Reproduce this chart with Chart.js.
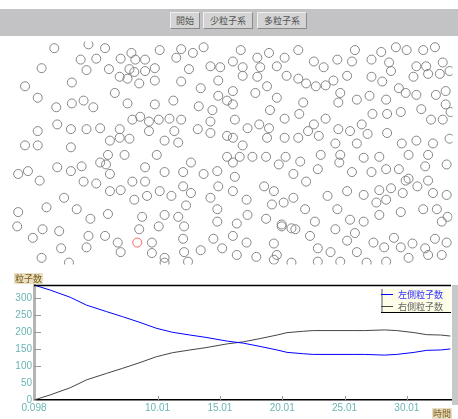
<!DOCTYPE html>
<html>
<head>
<meta charset="utf-8">
<script src="https://cdn.jsdelivr.net/npm/chart.js@4"></script>
<style>
body { margin: 0; width: 458px; height: 419px; position: relative; background: #fff; overflow: hidden; font-family: "Noto Sans CJK JP", sans-serif; }
#bar { position: absolute; left: 0; top: 9px; width: 458px; height: 27px; background: #c3c3c5; }
.btn { position: absolute; top: 3px; height: 15px; background: #d4d4d4; border: 1px solid; border-color: #efefef #8a8a8a #8a8a8a #efefef; font-size: 9px; line-height: 15px; text-align: center; color: #555; }
#field { position: absolute; left: 0; top: 36px; }
#graph { position: absolute; left: 0; top: 270px; }
.lbl { position: absolute; font-size: 9px; line-height: 11px; color: #7a5a10; background: #e8dfc4; padding: 0 1px; }
</style>
</head>
<body>
<div id="bar">
  <div class="btn" style="left:170px;width:28px">開始</div>
  <div class="btn" style="left:203px;width:48px">少粒子系</div>
  <div class="btn" style="left:257px;width:48px">多粒子系</div>
</div>
<canvas id="field" width="458" height="234"></canvas>
<canvas id="graph" width="458" height="149"></canvas>
<span class="lbl" style="left:14px;top:273px">粒子数</span>
<span class="lbl" style="left:432px;top:408px">時間</span>
<script>
// particle positions (page pixels)
const particles = [
  [50,43],[85,39],[102,43],[129,48],[158,45],[180,44],[192,48],[203,42],
  [77,55],[93,54],[118,54],[133,55],[143,55],[175,53],[210,62],[220,63],
  [37,64],[83,66],[106,65],[127,65],[132,68],[143,67],[153,64],[188,65],
  [68,79],[117,73],[125,75],[137,80],[153,77],[180,78],[200,85],[218,77],
  [20,83],[33,95],[112,90],[52,105],[68,101],[80,98],[90,105],[125,101],[153,102],[172,98],[198,104],[212,108],[218,93],[227,98],
  [138,115],[130,118],[147,120],[157,118],[168,117],[180,118],[173,130],
  [33,130],[53,123],[67,128],[83,128],[97,127],[117,128],[147,130],[197,128],[210,120],[210,132],[227,135],
  [20,145],[33,145],[67,147],[107,140],[117,137],[127,138],[163,140],[177,142],
  [241,45],[233,57],[243,63],[258,53],[270,48],[278,62],[261,63],[286,53],[300,45],[316,57],[326,63],[340,55],[358,45],[355,57],[375,55],[385,47],[393,58],[400,42],[411,45],[428,45],[440,42],[421,62],[431,62],[448,58],
  [243,72],[258,73],[268,83],[256,90],[288,72],[300,75],[308,80],[318,83],[328,82],[336,77],[350,72],[375,73],[386,78],[395,67],[403,85],[418,73],[421,92],[433,70],[445,70],[455,67],
  [233,88],[233,102],[278,95],[271,108],[305,100],[343,90],[341,100],[360,97],[373,93],[390,97],[410,90],[441,92],[451,88],[451,102],
  [235,118],[248,127],[260,123],[270,127],[286,117],[301,112],[316,123],[328,117],[341,128],[353,130],[365,123],[376,112],[391,112],[405,110],[426,107],[436,118],[448,118],[456,110],
  [233,137],[243,145],[268,137],[286,137],[300,137],[310,130],[321,135],[338,143],[360,143],[371,133],[391,132],[406,143],[421,140],[438,143],[455,138],
  [105,155],[122,155],[155,155],[227,157],[240,157],[253,157],[267,157],[287,157],[302,162],[323,155],[343,155],[367,158],[383,157],[413,155],[433,155],
  [23,172],[35,182],[13,175],[53,168],[67,172],[78,167],[97,163],[107,175],[103,165],
  [143,168],[163,173],[182,173],[190,163],[203,175],[217,172],[233,163],[235,178],
  [280,165],[295,175],[308,183],[320,170],[342,163],[355,173],[375,173],[390,170],[403,170],[413,180],[430,167],[452,165],
  [80,183],[93,185],[107,193],[118,192],[130,183],[143,183],[132,202],
  [145,198],[158,193],[170,198],[182,188],[190,195],[210,200],[218,188],[233,193],[247,202],
  [265,188],[275,193],[273,207],[285,205],[295,200],[307,212],
  [330,198],[350,193],[367,197],[383,192],[395,190],[407,195],[422,188],[438,195],[452,197],[433,182],[410,182],
  [60,200],[42,210],[13,215],[73,212],[87,222],[105,217],
  [140,220],[163,218],[177,220],[185,208],[157,230],[183,230],
  [217,212],[217,225],[237,227],[248,218],[267,222],[283,228],[293,232],[317,225],
  [340,212],[353,223],[367,225],[380,205],[390,202],[383,218],[405,215],[428,212],[442,212],[447,225],[453,220],
  [12,230],[28,242],[38,233],[55,235],[85,240],[102,240],[115,247],[83,252],
  [137,233],[150,247],[150,258],[163,263],[182,243],[183,257],[200,255],
  [213,243],[222,253],[233,240],[237,260],[247,247],[257,262],
  [275,248],[278,260],[283,230],[297,233],[312,240],[320,253],[333,257],
  [338,233],[350,245],[358,237],[360,257],[377,247],[388,252],[398,242],[405,252],[417,248],[430,253],[440,243],[452,247],
  [37,263],[57,253],[65,268],[118,257],[163,268],[187,267],[275,265],[293,268],[320,267],[343,267],[370,268],[390,267],[413,263],[433,260],[447,260]
];
const marked = [[135,247]];

// particle counts over time
const times     = [0.098, 1.4, 3.0, 4.3, 5.9, 7.2, 8.6, 9.9, 11.2, 12.6, 13.9, 15.6, 16.9, 18.3, 19.6, 20.4, 21.7, 22.5, 25.7, 26.6, 28.2, 29.2, 30.6, 31.6, 32.7, 33.5];
const leftSide  = [338, 323, 302, 279, 260, 245, 228, 211, 199, 191, 184, 173, 167, 157, 147, 140, 136, 134, 134, 134, 132, 134, 140, 146, 147, 150];
const rightSide = [0, 15, 36, 59, 78, 93, 110, 127, 139, 147, 154, 165, 171, 181, 191, 198, 202, 204, 204, 204, 206, 204, 198, 192, 191, 188];
const seriesNames = ['左側粒子数', '右側粒子数'];
const xTickValues = [0.098, 10.01, 15.01, 20.01, 25.01, 30.01];
const xTickLabels = ['0.098', '10.01', '15.01', '20.01', '25.01', '30.01'];
const yTickValues = [0, 50, 100, 150, 200, 250, 300];

Chart.defaults.devicePixelRatio = 1;
Chart.defaults.animation = false;

new Chart(document.getElementById('field'), {
    type: 'scatter',
    data: {
        datasets: [{
            data: marked.map(([x, y]) => ({ x, y })),
            pointRadius: 4.5, pointHoverRadius: 4.5, pointBorderWidth: 1,
            pointBorderColor: '#ff6060', pointBackgroundColor: 'rgba(0,0,0,0)'
        }, {
            data: particles.map(([x, y]) => ({ x, y })),
            pointRadius: 4.5, pointHoverRadius: 4.5, pointBorderWidth: 1,
            pointBorderColor: '#858585', pointBackgroundColor: 'rgba(0,0,0,0)'
        }]
    },
    options: {
        responsive: false,
        events: [],
        layout: { padding: 0 },
        plugins: { legend: { display: false }, tooltip: { enabled: false } },
        scales: {
            x: { display: false, min: 0, max: 458 },
            y: { display: false, min: 36, max: 270, reverse: true }
        }
    }
});

const frame = {
    id: 'frame',
    afterDraw(chart) {
        const { ctx, chartArea: a, scales: { x, y } } = chart;
        ctx.save();
        // top edge
        ctx.strokeStyle = '#000';
        ctx.lineWidth = 1.5;
        ctx.beginPath();
        ctx.moveTo(a.left, a.top + 0.5);
        ctx.lineTo(a.right, a.top + 0.5);
        ctx.stroke();
        // right grey strip
        ctx.fillStyle = '#c8c8c8';
        ctx.fillRect(a.right + 1, a.top, 6, a.bottom - a.top + 5);
        // inner tick marks
        ctx.lineWidth = 1;
        ctx.beginPath();
        y.ticks.forEach(t => {
            if (t.value < 100) return;
            const py = Math.round(y.getPixelForValue(t.value)) + 0.5;
            ctx.moveTo(a.left, py);
            ctx.lineTo(a.left + 7, py);
        });
        x.ticks.forEach(t => {
            if (t.value < 1) return;
            const px = Math.round(x.getPixelForValue(t.value)) + 0.5;
            ctx.moveTo(px, a.bottom);
            ctx.lineTo(px, a.bottom - 4);
        });
        ctx.strokeStyle = '#999';
        ctx.stroke();
        // legend box
        const lw = 70, lh = 23, lx = a.right - lw, ly = a.top + 4;
        ctx.fillStyle = '#fdfde8';
        ctx.fillRect(lx, ly, lw, lh);
        ctx.fillStyle = '#aaa';
        ctx.fillRect(lx, ly, 2, lh);
        ctx.strokeStyle = '#000';
        ctx.beginPath();
        ctx.moveTo(lx, ly + lh + 0.5);
        ctx.lineTo(a.right, ly + lh + 0.5);
        ctx.stroke();
        ctx.font = '9px "Noto Sans CJK JP"';
        ctx.textBaseline = 'middle';
        chart.data.datasets.forEach((ds, i) => {
            const cy = ly + 5.5 + i * 12;
            ctx.strokeStyle = ds.borderColor;
            ctx.beginPath();
            ctx.moveTo(lx, cy);
            ctx.lineTo(lx + 12, cy);
            ctx.stroke();
            ctx.fillStyle = i === 0 ? '#3030ff' : '#666';
            ctx.fillText(ds.label, lx + 17, cy);
        });
        ctx.restore();
    }
};

new Chart(document.getElementById('graph'), {
    type: 'line',
    data: {
        labels: times,
        datasets: [{
            label: seriesNames[0],
            data: times.map((t, i) => ({ x: t, y: leftSide[i] })),
            borderColor: '#0000ff', borderWidth: 1, pointRadius: 0, tension: 0
        }, {
            label: seriesNames[1],
            data: times.map((t, i) => ({ x: t, y: rightSide[i] })),
            borderColor: '#444444', borderWidth: 1, pointRadius: 0, tension: 0
        }]
    },
    options: {
        responsive: false,
        events: [],
        layout: { padding: { top: 15, right: 7, left: 0, bottom: 0 } },
        plugins: { legend: { display: false }, tooltip: { enabled: false } },
        scales: {
            x: {
                type: 'linear', min: 0.098, max: 33.55,
                afterBuildTicks: s => { s.ticks = xTickValues.map(v => ({ value: v })); },
                afterFit: s => { s.height = 19; },
                ticks: {
                    color: '#6cb4b4', padding: 2, maxRotation: 0, autoSkip: false,
                    font: { family: 'Liberation Sans', size: 10 },
                    callback: (v, i) => xTickLabels[i]
                },
                grid: { display: false, drawTicks: false },
                border: { color: '#000', width: 1.5 }
            },
            y: {
                min: 0, max: 338,
                afterBuildTicks: s => { s.ticks = yTickValues.map(v => ({ value: v })); },
                afterFit: s => { s.width = 34; },
                ticks: { color: '#6cb4b4', padding: 2, font: { family: 'Liberation Sans', size: 10 } },
                grid: { display: false, drawTicks: false },
                border: { color: '#b4b4b4', width: 3 }
            }
        }
    },
    plugins: [frame]
});
</script>
</body>
</html>
